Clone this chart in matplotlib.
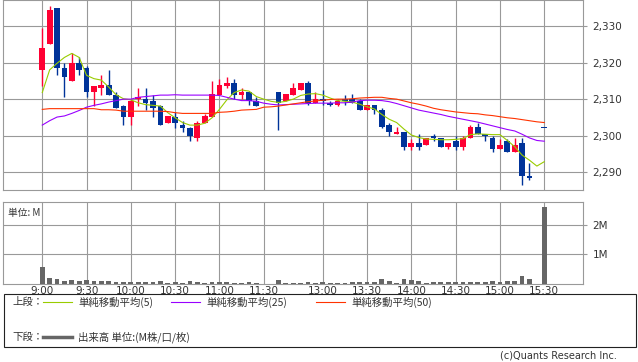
import matplotlib
matplotlib.use("Agg")
import matplotlib.pyplot as plt
import numpy as np
import pandas as pd
from matplotlib.lines import Line2D
from matplotlib.patches import Rectangle
from matplotlib.ticker import FuncFormatter

# 5分足 (前場 9:00-11:25, 後場 12:30-15:20, 引け 15:30)
am = pd.date_range("09:00", "11:25", freq="5min").strftime("%H:%M").tolist()
pm = pd.date_range("12:30", "15:20", freq="5min").strftime("%H:%M").tolist()
bar_times = am + pm + ["15:30"]

opens = [2318, 2325, 2335, 2318.5, 2315, 2320, 2318.5, 2312, 2313, 2314,
         2311, 2308, 2305, 2310, 2310, 2309.5, 2308, 2303.5, 2305, 2303,
         2302, 2299.5, 2303.5, 2305, 2311, 2313.5, 2314.5, 2311, 2312, 2309.5,
         2312, 2309.5, 2311, 2312.5, 2314.5, 2309, 2310, 2309, 2308.5, 2310,
         2310, 2309.5, 2307, 2308.5, 2307, 2303, 2300.5, 2301, 2297, 2298,
         2297.5, 2299.7, 2299.5, 2297, 2298.5, 2297, 2299.5, 2302.5, 2300.5, 2299.5,
         2296.5, 2298.5, 2295.5, 2298, 2289, 2302]
highs = [2329.5, 2335.5, 2335, 2320, 2322.5, 2321.5, 2319, 2313.5, 2316.5, 2318,
         2312, 2308.5, 2310, 2313, 2313, 2311, 2308.5, 2305.5, 2306.5, 2304,
         2302.5, 2304, 2306, 2315, 2315.5, 2316, 2315.5, 2313, 2312, 2310.5,
         2312, 2311.5, 2314.5, 2314.5, 2315, 2312, 2312.5, 2309.5, 2310, 2311,
         2311.5, 2310, 2308.5, 2308.5, 2307.5, 2303.5, 2302.5, 2301, 2299, 2300.5,
         2299.5, 2300.5, 2299.5, 2298, 2300, 2300, 2303, 2303.5, 2300.5, 2300,
         2299, 2299, 2299.5, 2299.5, 2292.5, 2302]
lows = [2313.5, 2325, 2316.5, 2310.5, 2315, 2316.5, 2310.5, 2308, 2311, 2311,
        2307.5, 2303, 2303, 2308, 2307, 2305, 2303, 2303.5, 2302, 2301,
        2298.5, 2298.5, 2303.5, 2305, 2311, 2313, 2310, 2310, 2308.5, 2308,
        2301.5, 2309.5, 2311, 2312.5, 2308.5, 2309, 2308.5, 2308, 2308, 2308.5,
        2309, 2307, 2307, 2306, 2302, 2300, 2300.5, 2296, 2296, 2296,
        2297.5, 2298.5, 2297, 2296.5, 2296, 2296, 2299.5, 2300.5, 2298.5, 2295.5,
        2296.5, 2295.5, 2295.5, 2286.5, 2288, 2302]
closes = [2324, 2334.5, 2318.5, 2316, 2320, 2318, 2312, 2313.5, 2314, 2311,
          2307.5, 2305, 2309.5, 2310.5, 2309, 2307.5, 2303, 2305.5, 2303.5, 2302,
          2300, 2303.5, 2305.5, 2311.5, 2314, 2314.5, 2311, 2312, 2309.5, 2308,
          2309, 2311.5, 2313, 2314.5, 2309, 2310, 2309.5, 2308.5, 2309.5, 2309.5,
          2309, 2307, 2308.5, 2307, 2302.5, 2301, 2301, 2297, 2298, 2297,
          2299.5, 2299.5, 2297, 2298, 2297, 2299.5, 2302.5, 2300.5, 2300, 2296.5,
          2297.5, 2295.5, 2297.5, 2289, 2288.5, 2302]
# 出来高 (百万株)
volume_m = [0.56, 0.21, 0.17, 0.10, 0.14, 0.10, 0.14, 0.10, 0.10, 0.10,
            0.07, 0.07, 0.07, 0.07, 0.07, 0.07, 0.10, 0.035, 0.07, 0.035,
            0.10, 0.07, 0.035, 0.07, 0.07, 0.07, 0.035, 0.035, 0.07, 0.035,
            0.14, 0.035, 0.035, 0.035, 0.07, 0.035, 0.07, 0.035, 0.035, 0.035,
            0.07, 0.07, 0.07, 0.07, 0.17, 0.10, 0.035, 0.17, 0.14, 0.10,
            0.035, 0.07, 0.07, 0.07, 0.07, 0.07, 0.07, 0.07, 0.07, 0.10,
            0.07, 0.10, 0.10, 0.28, 0.17, 2.58]

# 移動平均 (9:00-11:30, 12:25-15:30)
ma_times = (pd.date_range("09:00", "11:30", freq="5min").strftime("%H:%M").tolist()
            + pd.date_range("12:25", "15:30", freq="5min").strftime("%H:%M").tolist())
ma5 = [2311.8, 2318.0, 2319.8, 2321.4, 2322.5, 2321.4, 2316.5, 2315.6, 2315.2, 2313.3,
       2311.2, 2310.1, 2309.8, 2309.0, 2308.5, 2308.3, 2308.1, 2306.3, 2304.9, 2303.6,
       2302.9, 2302.9, 2303.4, 2304.9, 2307.2, 2309.8, 2311.8, 2312.5, 2312.2, 2310.7,
       2310.0, 2309.4, 2309.1, 2309.4, 2310.0, 2311.0, 2311.4, 2311.5, 2311.1, 2310.3,
       2309.6, 2309.4, 2309.2, 2308.6, 2307.9, 2307.3, 2305.8, 2304.5, 2303.6, 2301.8,
       2300.2, 2299.5, 2299.1, 2299.0, 2298.9, 2298.9, 2299.0, 2299.2, 2300.3, 2300.5,
       2300.4, 2300.3, 2300.3, 2298.7, 2297.0, 2294.7, 2293.3, 2291.7, 2292.9]
ma25 = [2302.9, 2304.1, 2305.1, 2305.4, 2306.1, 2306.9, 2307.8, 2308.3, 2308.7, 2309.2,
        2309.6, 2310.0, 2310.0, 2310.5, 2310.7, 2310.9, 2311.1, 2311.1, 2311.2, 2311.1,
        2311.1, 2311.1, 2311.1, 2311.1, 2311.0, 2310.5, 2310.0, 2309.6, 2309.6, 2309.4,
        2308.9, 2308.6, 2308.4, 2308.5, 2308.6, 2308.7, 2308.8, 2308.9, 2308.9, 2308.9,
        2309.0, 2309.0, 2309.2, 2309.6, 2309.7, 2309.7, 2309.6, 2309.3, 2308.8, 2308.2,
        2307.6, 2307.0, 2306.6, 2306.2, 2305.8, 2305.3, 2304.9, 2304.5, 2304.1, 2303.7,
        2303.2, 2302.7, 2302.2, 2301.7, 2301.3, 2300.4, 2299.4, 2298.7, 2298.5]
ma50 = [2307.2, 2307.4, 2307.4, 2307.4, 2307.4, 2307.4, 2307.4, 2307.4, 2307.1, 2307.1,
        2307.0, 2306.7, 2306.7, 2306.7, 2306.7, 2306.7, 2306.7, 2306.6, 2306.3, 2306.1,
        2306.1, 2306.1, 2306.1, 2306.1, 2306.4, 2306.5, 2306.7, 2307.0, 2307.1, 2307.2,
        2307.8, 2307.9, 2308.1, 2308.4, 2308.7, 2309.0, 2309.3, 2309.5, 2309.7, 2309.9,
        2310.0, 2310.0, 2310.1, 2310.3, 2310.4, 2310.5, 2310.5, 2310.2, 2310.0, 2309.5,
        2309.0, 2308.6, 2308.1, 2307.5, 2307.1, 2306.8, 2306.5, 2306.3, 2306.1, 2306.0,
        2305.7, 2305.5, 2305.2, 2304.9, 2304.7, 2304.4, 2304.1, 2303.8, 2303.6]

tick_times = ["9:00", "9:30", "10:00", "10:30", "11:00", "11:30",
              "13:00", "13:30", "14:00", "14:30", "15:00", "15:30"]
price_ticks = [2290, 2300, 2310, 2320, 2330]
vol_ticks = [1, 2]


def slot(t):
    # 昼休みを詰めた時間軸 (5分 = 1枠)
    h, m = map(int, t.split(":"))
    mins = h * 60 + m
    if mins <= 690:
        return (mins - 540) / 5
    return (mins - 750) / 5 + 32


W, H = 638, 362
def fx(px): return px / W
def fy(py): return 1 - py / H

UP, DOWN = "#ff0033", "#003399"
GRID = "#999999"
TXT = "#333333"
JP = ["Noto Sans CJK JP", "DejaVu Sans"]

fig = plt.figure(figsize=(W / 100, H / 100), dpi=100)
ax = fig.add_axes([fx(3), fy(190), fx(580), 190 / H])
axv = fig.add_axes([fx(3), fy(283.8), fx(580), 81.8 / H])

x = np.array([slot(t) for t in bar_times])
o, h_, l, c = map(np.array, (opens, highs, lows, closes))
cols = [UP if cc > oo else DOWN for oo, cc in zip(o, c)]
ax.vlines(x, l, h_, colors=cols, lw=1.0, zorder=3)
body = np.maximum(np.abs(c - o), 0.3)
ax.bar(x, body, bottom=np.minimum(o, c), width=0.78, color=cols, lw=0, zorder=4)

xm = [slot(t) for t in ma_times]
ax.plot(xm, ma5, color="#99cc00", lw=0.8, zorder=5)
ax.plot(xm, ma25, color="#9900ff", lw=0.8, zorder=5)
ax.plot(xm, ma50, color="#ff3300", lw=0.8, zorder=5)

axv.bar(x, volume_m, width=0.65, color="#666666", lw=0, zorder=3)

xt = [slot(t) for t in tick_times]
for a in (ax, axv):
    a.set_xlim(-5.32, 73.25)
    a.set_xticks(xt)
    a.grid(True, color=GRID, lw=0.8, zorder=0)
    for s in a.spines.values():
        s.set_color(GRID)
        s.set_linewidth(0.8)
    a.yaxis.tick_right()
    a.tick_params(axis="y", length=3, color=GRID, width=0.8, pad=4,
                  labelsize=7.5, labelcolor=TXT)

ax.set_ylim(2285.16, 2337.1)
ax.set_yticks(price_ticks)
ax.yaxis.set_major_formatter(FuncFormatter(lambda v, p: f"{v:,.0f}"))
ax.tick_params(axis="x", length=0, labelbottom=False)

axv.set_ylim(0, 2.76)
axv.set_yticks(vol_ticks)
axv.set_yticklabels([f"{v}M" for v in vol_ticks])
axv.set_xticklabels(tick_times)
axv.tick_params(axis="x", length=0, pad=1.5, labelsize=7.5, labelcolor=TXT)
axv.text(0.008, 0.93, "単位: M", transform=axv.transAxes, fontsize=7,
         family=JP, color=TXT, va="top", ha="left")

# 凡例
fig.add_artist(Rectangle((fx(3.5), fy(347)), fx(632), 53 / H, transform=fig.transFigure,
                         fill=False, ec="#222222", lw=0.8))
row1, row2 = fy(302), fy(337)
fig.text(fx(12), row1, "上段：", fontsize=7.5, family=JP, color=TXT, va="center")
fig.text(fx(12), row2, "下段：", fontsize=7.5, family=JP, color=TXT, va="center")
legend = [("#99cc00", 43, "単純移動平均(5)"),
          ("#9900ff", 171, "単純移動平均(25)"),
          ("#ff3300", 316, "単純移動平均(50)")]
for col, x0, lab in legend:
    fig.add_artist(Line2D([fx(x0), fx(x0 + 29)], [row1, row1], color=col, lw=0.8,
                          transform=fig.transFigure))
    fig.text(fx(x0 + 35), row1, lab, fontsize=7.5, family=JP, color=TXT, va="center")
fig.add_artist(Line2D([fx(43), fx(72)], [row2, row2], color="#666666", lw=2.5,
                      transform=fig.transFigure))
fig.text(fx(78), row2, "出来高 単位:(M株/口/枚)", fontsize=7.5, family=JP, color=TXT,
         va="center")
fig.text(fx(617), fy(356), "(c)Quants Research Inc.", fontsize=7, color=TXT,
         ha="right", va="center")

fig.savefig("out.png", dpi=100)
